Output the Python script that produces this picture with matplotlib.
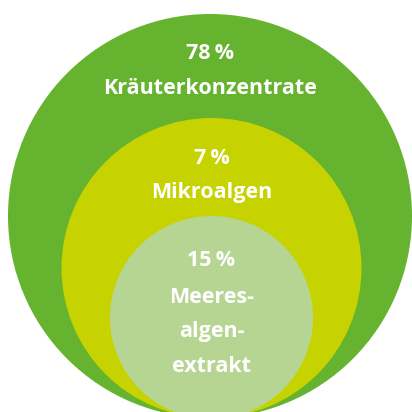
import matplotlib
matplotlib.use("Agg")
import matplotlib.pyplot as plt
from matplotlib.patches import Circle

# Data
shares = [78, 7, 15]
labels = ["Kräuterkonzentrate", "Mikroalgen", "Meeres-\nalgen-\nextrakt"]
colors = ["#65b32e", "#c6d300", "#b7d592"]

# Layout (pixel coordinates, y downwards)
centers = [(210, 216), (211.5, 268), (211.5, 317.5)]
radii = [202, 150, 101.5]
pct_y = [53, 158, 261]
lab_y = [88, 192, 332]

fig = plt.figure(figsize=(4.12, 4.12), dpi=100)
ax = fig.add_axes([0, 0, 1, 1])
ax.set_xlim(0, 412)
ax.set_ylim(412, 0)
ax.set_aspect("equal")
ax.axis("off")

for (cx, cy), r, c in zip(centers, radii, colors):
    ax.add_patch(Circle((cx, cy), r, facecolor=c, edgecolor="none"))

font = ["Open Sans", "DejaVu Sans"]
for i, (s, lab) in enumerate(zip(shares, labels)):
    cx = centers[i][0]
    ax.text(cx, pct_y[i], f"{s}\u2009%", ha="center", va="center", color="white",
            fontsize=15.5, fontweight="bold", family=font)
    ax.text(cx, lab_y[i], lab, ha="center", va="center", color="white",
            fontsize=15.5, fontweight="bold", family=font, linespacing=1.85)

fig.savefig("out.png", dpi=100)
